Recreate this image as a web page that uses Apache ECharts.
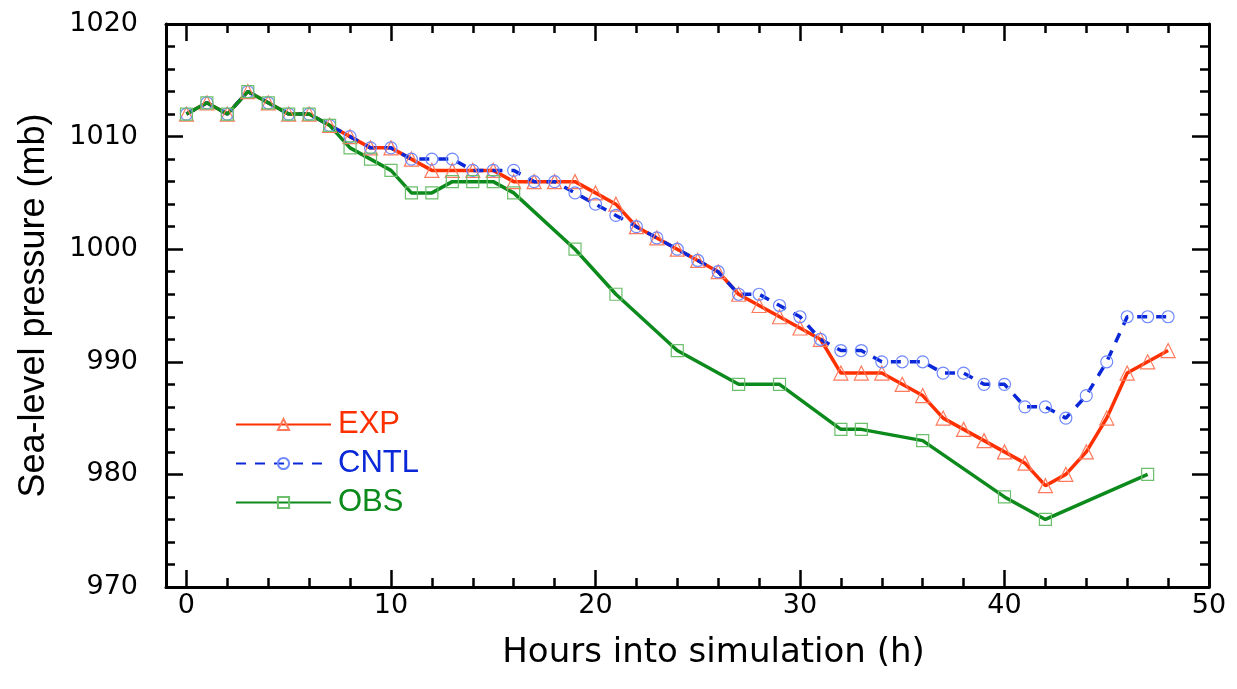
<!DOCTYPE html>
<html>
<head>
<meta charset="utf-8">
<script src="https://cdn.jsdelivr.net/npm/echarts@6/dist/echarts.min.js"></script>
<style>
  html, body { margin: 0; padding: 0; background: #fff; }
  #chart { width: 1237px; height: 689px; }
</style>
</head>
<body>
<div id="chart"></div>
<script>
// hours 0..48, values (mb)
const expHours = Array.from({ length: 49 }, (_, i) => i)
const expValues = [
  1012, 1013, 1012, 1014, 1013, 1012, 1012, 1011, 1010, 1009,
  1009, 1008, 1007, 1007, 1007, 1007, 1006, 1006, 1006, 1006,
  1005, 1004, 1002, 1001, 1000, 999, 998, 996, 995, 994,
  993, 992, 989, 989, 989, 988, 987, 985, 984, 983,
  982, 981, 979, 980, 982, 985, 989, 990, 991
]
const cntlValues = [
  1012, 1013, 1012, 1014, 1013, 1012, 1012, 1011, 1010, 1009,
  1009, 1008, 1008, 1008, 1007, 1007, 1007, 1006, 1006, 1005,
  1004, 1003, 1002, 1001, 1000, 999, 998, 996, 996, 995,
  994, 992, 991, 991, 990, 990, 990, 989, 989, 988,
  988, 986, 986, 985, 987, 990, 994, 994, 994
]
// observations are not hourly
const obsHours = [0, 1, 2, 3, 4, 5, 6, 7, 8, 9, 10, 11, 12, 13, 14, 15, 16, 19, 21, 24, 27, 29, 32, 33, 36, 40, 42, 47]
const obsValues = [
  1012, 1013, 1012, 1014, 1013, 1012, 1012, 1011, 1009, 1008,
  1007, 1005, 1005, 1006, 1006, 1006, 1005, 1000, 996, 991,
  988, 988, 984, 984, 983, 978, 976, 980
]

const RED = '#ff3000'
const BLUE = '#0a28d8'
const GREEN = '#0c8a1c'

const pairs = (xs, ys) => xs.map((x, i) => [x, ys[i]])

const chart = echarts.init(document.getElementById('chart'))

const majorX = (pos, withLabel) => ({
  type: 'value',
  position: pos,
  min: -1,
  max: 50,
  minInterval: 10,
  maxInterval: 10,
  splitLine: { show: false },
  axisLine: { show: true, onZero: false, lineStyle: { color: '#000', width: 3 } },
  axisTick: { show: true, inside: true, length: 17, lineStyle: { color: '#000', width: 2.5 } },
  axisLabel: withLabel
    ? {
        show: true,
        margin: 5,
        fontFamily: 'DejaVu Sans',
        fontSize: 27,
        color: '#000',
        formatter: (v) => (v % 10 === 0 ? String(v) : ''),
      }
    : { show: false },
})

const minorX = (pos) => ({
  type: 'value',
  position: pos,
  min: -1,
  max: 50,
  minInterval: 2,
  maxInterval: 2,
  splitLine: { show: false },
  axisLine: { show: false, onZero: false },
  axisTick: { show: true, inside: true, length: 9, lineStyle: { color: '#000', width: 2.5 } },
  axisLabel: { show: false },
})

const yAxisDef = (pos, withLabel) => ({
  type: 'value',
  position: pos,
  min: 970,
  max: 1020,
  interval: 10,
  splitLine: { show: false },
  axisLine: { show: true, onZero: false, lineStyle: { color: '#000', width: 3 } },
  axisTick: { show: true, inside: true, length: 17, lineStyle: { color: '#000', width: 2.5 } },
  minorTick: { show: true, splitNumber: 5, length: 9, lineStyle: { color: '#000', width: 2.5 } },
  axisLabel: withLabel
    ? {
        show: true,
        margin: 28,
        fontFamily: 'DejaVu Sans',
        fontSize: 27,
        color: '#000',
        formatter: (v) => String(v),
      }
    : { show: false },
})

const xMain = majorX('bottom', true)
xMain.name = 'Hours into simulation (h)'
xMain.nameLocation = 'middle'
xMain.nameGap = 49
xMain.nameTextStyle = { fontFamily: 'DejaVu Sans', fontSize: 34, color: '#000', padding: [0, 0, 0, 52] }

const yMain = yAxisDef('left', true)
yMain.name = 'Sea-level pressure (mb)'
yMain.nameLocation = 'middle'
yMain.nameGap = 114
yMain.nameTextStyle = { fontFamily: 'Liberation Sans', fontSize: 36, color: '#000' }

const hollow = (c) => ({ color: 'rgba(255,255,255,0)', borderColor: c, borderWidth: 1.2 })

chart.setOption({
  animation: false,
  backgroundColor: '#fff',
  grid: { left: 166, right: 28, top: 24, bottom: 102, containLabel: false },
  xAxis: [xMain, minorX('bottom'), majorX('top', false), minorX('top')],
  yAxis: [yMain, yAxisDef('right', false)],
  legend: {
    orient: 'vertical',
    left: 235,
    top: 409,
    padding: 0,
    itemWidth: 95,
    itemHeight: 14,
    itemGap: 8,
    textStyle: { fontFamily: 'Liberation Sans', fontSize: 31, padding: [0, 0, 0, 2] },
    data: [
      { name: 'EXP', textStyle: { color: RED } },
      { name: 'CNTL', textStyle: { color: BLUE } },
      { name: 'OBS', textStyle: { color: GREEN } },
    ],
  },
  series: [
    {
      name: 'EXP',
      type: 'line',
      xAxisIndex: 0,
      yAxisIndex: 0,
      data: pairs(expHours, expValues),
      symbol: 'triangle',
      symbolSize: 14,
      itemStyle: hollow('#ff7a5c'),
      lineStyle: { color: RED, width: 3.5 },
    },
    {
      name: 'CNTL',
      type: 'line',
      xAxisIndex: 0,
      yAxisIndex: 0,
      data: pairs(expHours, cntlValues),
      symbol: 'circle',
      symbolSize: 12,
      itemStyle: hollow('#6f88ff'),
      lineStyle: { color: BLUE, width: 3.5, type: [10, 9] },
    },
    {
      name: 'OBS',
      type: 'line',
      xAxisIndex: 0,
      yAxisIndex: 0,
      data: pairs(obsHours, obsValues),
      symbol: 'rect',
      symbolSize: 12,
      itemStyle: hollow('#6cbf6c'),
      lineStyle: { color: GREEN, width: 3.5 },
    },
  ],
})
</script>
</body>
</html>
